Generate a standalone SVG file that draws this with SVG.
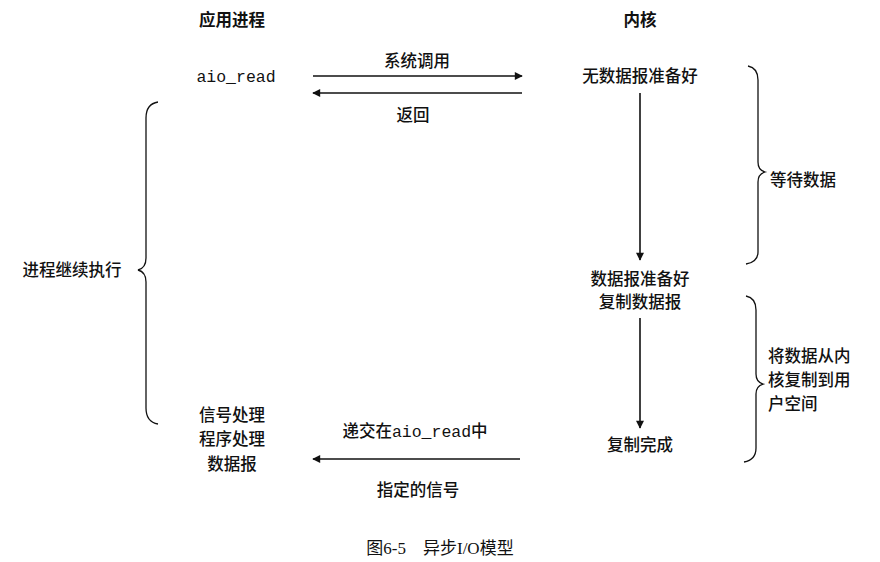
<svg xmlns="http://www.w3.org/2000/svg" width="880" height="562" viewBox="0 0 880 562">
<style>
text{font-family:"Noto Sans CJK SC","Liberation Sans",sans-serif;font-size:16.5px;font-weight:500;fill:#111;text-anchor:middle}
.b{font-weight:bold}
.m{font-family:"Liberation Mono","Noto Sans CJK SC",monospace;font-weight:normal}
.l{stroke:#111;stroke-width:1.6;fill:none}
.br{stroke:#111;stroke-width:1.3;fill:none}
</style>
<defs><marker id="a" viewBox="0 0 10 10" refX="9" refY="5" markerWidth="7" markerHeight="5" orient="auto" markerUnits="strokeWidth"><path d="M0,0L10,5L0,10z" fill="#111"/></marker></defs>
<rect width="880" height="562" fill="#fff"/>
<g id="titles"><text class="b" x="232" y="26">应用进程</text><text class="b" x="640" y="26">内核</text></g>
<g id="connectors">
<line class="l" x1="313" y1="76" x2="522" y2="76" marker-end="url(#a)"/>
<line class="l" x1="522" y1="93" x2="313" y2="93" marker-end="url(#a)"/>
<line class="l" x1="640" y1="93" x2="640" y2="260" marker-end="url(#a)"/>
<line class="l" x1="640" y1="318" x2="640" y2="428" marker-end="url(#a)"/>
<line class="l" x1="520" y1="459" x2="313" y2="459" marker-end="url(#a)"/>
<text x="417" y="67">系统调用</text>
<text x="413" y="121">返回</text>
<text x="415" y="437">递交在<tspan class="m">aio_read</tspan>中</text>
<text x="418" y="496">指定的信号</text>
</g>
<g id="aio"><text class="m" x="236" y="82">aio_read</text></g>
<g id="k1"><text x="640" y="82">无数据报准备好</text></g>
<g id="k2"><text x="640" y="285">数据报准备好</text><text x="640" y="308">复制数据报</text></g>
<g id="k3"><text x="640" y="451">复制完成</text></g>
<g id="handler"><text x="232" y="421">信号处理</text><text x="232" y="445">程序处理</text><text x="232" y="470">数据报</text></g>
<g id="leftbrace"><path class="br" d="M158,102 Q146,104 146,118 L146,258 Q146,268 138,270 Q146,272 146,282 L146,408 Q146,422 158,424"/><text x="72" y="276">进程继续执行</text></g>
<g id="brace1"><path class="br" d="M748,66 Q758,68 758,80 L758,162 Q758,170 765,172 Q758,174 758,182 L758,252 Q758,262 746,264"/><text x="770" y="186" style="text-anchor:start">等待数据</text></g>
<g id="brace2"><path class="br" d="M746,296 Q756,298 756,310 L756,374 Q756,382 763,384 Q756,386 756,394 L756,448 Q756,460 744,462"/><text x="768" y="362" style="text-anchor:start">将数据从内</text><text x="768" y="386" style="text-anchor:start">核复制到用</text><text x="768" y="410" style="text-anchor:start">户空间</text></g>
<g id="caption"><text x="440" y="554" style="font-family:'Liberation Serif','Noto Sans CJK SC',serif;font-size:17px;font-weight:normal">图6-5　异步I/O模型</text></g>
</svg>
